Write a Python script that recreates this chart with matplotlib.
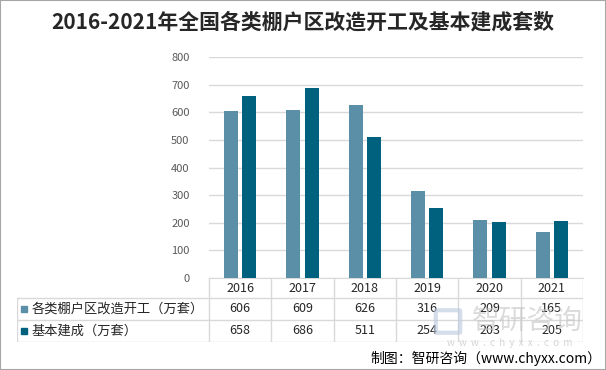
import matplotlib
matplotlib.use("Agg")
import matplotlib.pyplot as plt
from matplotlib.patches import Rectangle, FancyBboxPatch

plt.rcParams['font.family'] = ['Noto Sans CJK SC', 'DejaVu Sans']

# data
years = ['2016', '2017', '2018', '2019', '2020', '2021']
series_names = ['各类棚户区改造开工（万套）', '基本建成（万套）']
started = [606, 609, 626, 316, 209, 165]
completed = [658, 686, 511, 254, 203, 205]
yticks = [0, 100, 200, 300, 400, 500, 600, 700, 800]

c_light = '#5b8fa7'
c_dark = '#00617f'
grid_c = '#d9d9d9'

W, H = 606, 370
fig = plt.figure(figsize=(W / 100, H / 100), dpi=100)

def fx(px):
    return px / W

def fy(py):
    return 1 - py / H

# page border
fig.patches.append(Rectangle((0, 0), 1, 1, transform=fig.transFigure,
                             fill=False, edgecolor='#a6a6a6', lw=1.5))

# main chart area (pixel bounds)
ax_l, ax_r, ax_t, ax_b = 209, 583, 57, 278
ax = fig.add_axes([fx(ax_l), fy(ax_b), fx(ax_r - ax_l), fy(ax_t) - fy(ax_b)])

x = list(range(len(years)))
w = 0.225
off = 0.145
ax.bar([i - off for i in x], started, width=w, color=c_light, zorder=3)
ax.bar([i + off for i in x], completed, width=w, color=c_dark, zorder=3)

ax.set_xlim(-0.5, len(years) - 0.5)
ax.set_ylim(0, 800)
ax.set_yticks(yticks)
ax.set_yticklabels([str(v) for v in yticks], color='#595959', fontsize=8)
ax.yaxis.grid(True, color=grid_c, lw=1)
ax.set_axisbelow(True)
ax.tick_params(axis='y', length=0, pad=14)
ax.set_xticks([])
for s in ['top', 'right', 'left']:
    ax.spines[s].set_visible(False)
ax.spines['bottom'].set_color(grid_c)

# title
fig.text(0.5, fy(22), '2016-2021年全国各类棚户区改造开工及基本建成套数',
         ha='center', va='center', fontsize=15, fontweight='bold', color='#262626')

# data table below the chart, same x scale as the bars
tb_l, tb_r = 17, 583
rows_y = [278, 298, 320, 342]
cat_px = (ax_r - ax_l) / len(years)
x0_data = -0.5 - (ax_l - tb_l) / cat_px
tab = fig.add_axes([fx(tb_l), fy(rows_y[-1]), fx(tb_r - tb_l), fy(rows_y[0]) - fy(rows_y[-1])])
tab.set_xlim(x0_data, len(years) - 0.5)
tab.set_ylim(rows_y[-1], rows_y[0])
tab.axis('off')

# watermark (drawn first so the table numbers sit on top)
fig.patches.append(FancyBboxPatch((fx(437), fy(332)), fx(22), fy(311) - fy(332),
                                  boxstyle='round,pad=0.002', transform=fig.transFigure,
                                  fill=False, edgecolor='#b8c8dc', lw=3, alpha=0.6))
fig.text(fx(527), fy(321), '智研咨询', ha='center', va='center', fontsize=20,
         color='#c4c4c4', alpha=0.6)
fig.text(fx(510), fy(343), 'w  w  w  .  c  h  y  x  x  .  c  o  m', ha='center', va='center',
         fontsize=7, color='#c4c4c4', alpha=0.7)

lc = dict(color=grid_c, lw=1)
for yy in rows_y[1:]:
    tab.plot([x0_data, len(years) - 0.5], [yy, yy], **lc)
tab.plot([x0_data, x0_data], [rows_y[1], rows_y[-1]], **lc)
for i in range(len(years) + 1):
    tab.plot([i - 0.5, i - 0.5], [rows_y[0], rows_y[-1]], **lc)

for i, yr in enumerate(years):
    tab.text(i, (rows_y[0] + rows_y[1]) / 2, yr, ha='center', va='center',
             fontsize=9, color='#262626')
for r, (vals, col) in enumerate([(started, c_light), (completed, c_dark)]):
    yc = (rows_y[r + 1] + rows_y[r + 2]) / 2
    for i, v in enumerate(vals):
        tab.text(i, yc, str(v), ha='center', va='center', fontsize=9, color='#262626')
    fig.patches.append(Rectangle((fx(21), fy(yc + 3)), fx(6), fy(yc - 3) - fy(yc + 3),
                                 transform=fig.transFigure, color=col))
    fig.text(fx(32), fy(yc), series_names[r], ha='left', va='center',
             fontsize=9.5, color='#262626')

# source note
fig.text(fx(601), fy(358), '制图：智研咨询（www.chyxx.com）', ha='right', va='center',
         fontsize=10, color='#000000')

fig.savefig('out.png', dpi=100)
